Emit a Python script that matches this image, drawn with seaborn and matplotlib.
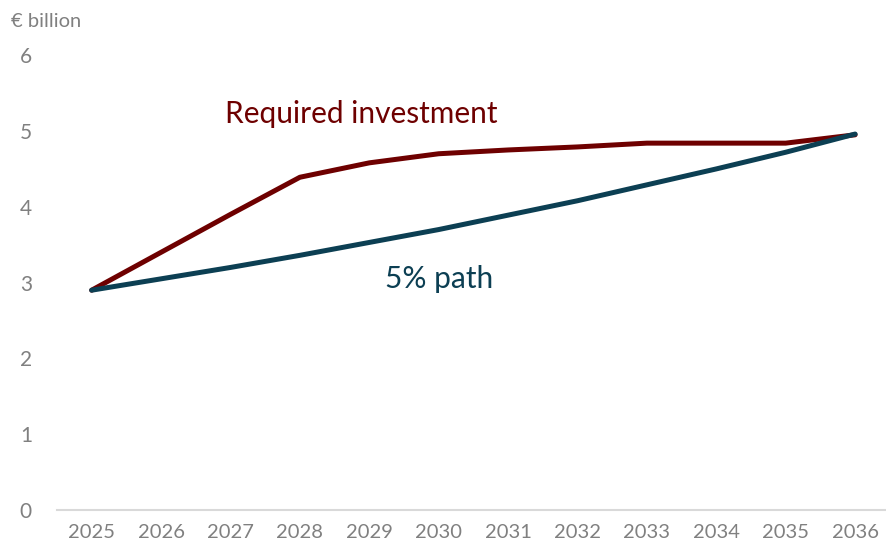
import pandas as pd
import seaborn as sns
import matplotlib.pyplot as plt

# data (€ billion)
years = ["2025", "2026", "2027", "2028", "2029", "2030",
         "2031", "2032", "2033", "2034", "2035", "2036"]
required_investment = [2.90, 3.40, 3.90, 4.39, 4.58, 4.70,
                       4.75, 4.79, 4.84, 4.84, 4.84, 4.95]
five_pct_path = [2.90, 3.05, 3.20, 3.36, 3.53, 3.70,
                 3.89, 4.08, 4.29, 4.50, 4.72, 4.96]
y_ticks = [0, 1, 2, 3, 4, 5, 6]

RED = "#6e0000"
TEAL = "#0c3f53"
GREY = "#808080"

sns.set_style("white")
plt.rcParams["font.family"] = ["Lato", "DejaVu Sans"]

df = pd.DataFrame({
    "Year": years * 2,
    "Value": required_investment + five_pct_path,
    "Series": ["Required investment"] * len(years) + ["5% path"] * len(years),
})

fig = plt.figure(figsize=(8.86, 5.56), dpi=100)
ax = fig.add_axes([0.0643, 0.0827, 0.94, 0.818])

sns.lineplot(data=df, x="Year", y="Value", hue="Series",
             palette={"Required investment": RED, "5% path": TEAL},
             linewidth=3.6, legend=False, ax=ax, sort=False,
             solid_capstyle="round")

ax.set_xlim(-0.5, 11.5)
ax.set_ylim(0, 6)
ax.set_yticks(y_ticks)
ax.set_xlabel("")
ax.set_ylabel("")

for side in ["top", "right", "left"]:
    ax.spines[side].set_visible(False)
ax.spines["bottom"].set_color("#d9d9d9")
ax.spines["bottom"].set_linewidth(1.5)

ax.tick_params(axis="both", length=0, colors=GREY, labelsize=14.5)
ax.tick_params(axis="y", pad=18, labelsize=15)
ax.tick_params(axis="x", pad=10)

ax.text(3.88, 5.22, "Required investment", color=RED, fontsize=21.5,
        ha="center", va="center")
ax.text(5.0, 3.05, "5% path", color=TEAL, fontsize=21.5,
        ha="center", va="center")
fig.text(0.012, 0.962, "€ billion", color=GREY, fontsize=14.5,
         ha="left", va="center")

fig.savefig("out.png", dpi=100)
